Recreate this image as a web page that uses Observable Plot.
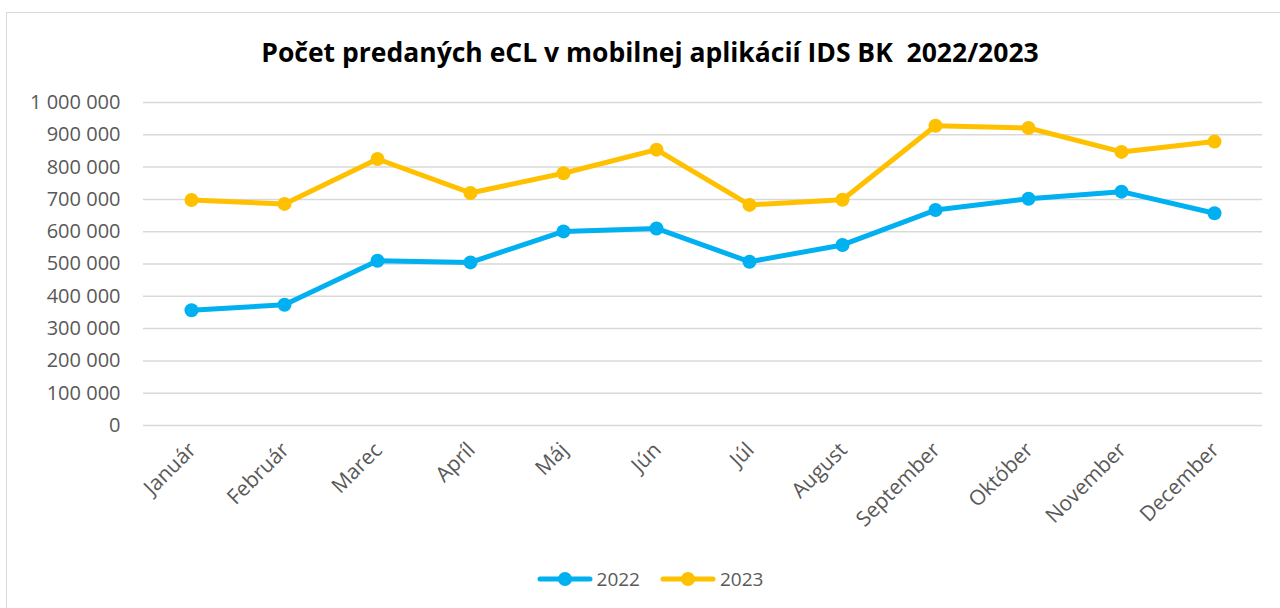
<!DOCTYPE html>
<html>
<head>
<meta charset="utf-8">
<script src="https://cdn.jsdelivr.net/npm/d3@7"></script>
<script src="https://cdn.jsdelivr.net/npm/@observablehq/plot@0.6"></script>
<style>
  html, body { margin: 0; padding: 0; background: #fff; overflow: hidden; }
  #wrap { position: relative; width: 1280px; height: 608px; font-family: "Open Sans", sans-serif; }
  #frame { position: absolute; left: 6px; top: 12px; width: 1290px; height: 620px; border: 1.5px solid #d9d9d9; box-sizing: border-box; }
  #title { position: absolute; left: 0; top: 33px; width: 1300px; text-align: center; font-weight: 700; font-size: 26.5px; color: #000; line-height: 38px; }
  #chart { position: absolute; left: 0; top: 80px; }
  #legend { position: absolute; left: 0; top: 564px; width: 1300px; display: flex; justify-content: center; gap: 20px; font-size: 19px; color: #595959; line-height: 30px; }
  .item { display: flex; align-items: center; gap: 4px; }
</style>
</head>
<body>
<div id="wrap">
  <div id="frame"></div>
  <div id="title">Počet predaných eCL v mobilnej aplikácií IDS BK&nbsp; 2022/2023</div>
  <div id="chart"></div>
  <div id="legend"></div>
</div>
<script>
const months = ["Január", "Február", "Marec", "Apríl", "Máj", "Jún", "Júl", "August", "September", "Október", "November", "December"];
const values2022 = [357000, 374000, 510000, 505000, 601000, 610000, 507000, 559000, 667000, 702000, 724000, 657000];
const values2023 = [698000, 686000, 825000, 720000, 781000, 854000, 683000, 699000, 928000, 921000, 847000, 879000];
const seriesNames = ["2022", "2023"];
const seriesColors = ["#00B0F0", "#FFC000"];
const yTicks = [0, 100000, 200000, 300000, 400000, 500000, 600000, 700000, 800000, 900000, 1000000];

const data = [];
[values2022, values2023].forEach((vals, s) => {
  vals.forEach((v, i) => data.push({month: months[i], year: seriesNames[s], value: v}));
});

const fmt = d => d3.format(",")(d).replace(/,/g, " ");

const chart = Plot.plot({
  width: 1280,
  height: 460,
  marginTop: 22,
  marginBottom: 115,
  marginLeft: 143,
  marginRight: 18,
  style: {fontFamily: "Open Sans, sans-serif", fontSize: "20px", color: "#595959", background: "transparent"},
  x: {type: "point", domain: months, padding: 0.5, label: null},
  y: {domain: [0, 1000000], label: null},
  color: {domain: seriesNames, range: seriesColors},
  marks: [
    Plot.gridY(yTicks, {stroke: "#d9d9d9", strokeOpacity: 1, strokeWidth: 1.5}),
    Plot.axisY(yTicks, {tickSize: 0, tickPadding: 23, tickFormat: fmt, label: null, fill: "#595959", fontSize: 20}),
    Plot.axisX({tickSize: 0, tickRotate: -45, tickPadding: 21, label: null, fill: "#595959", fontSize: 21, dx: 1}),
    Plot.line(data, {x: "month", y: "value", z: "year", stroke: "year", strokeWidth: 5, strokeLinejoin: "round"}),
    Plot.dot(data, {x: "month", y: "value", fill: "year", r: 7, stroke: null})
  ]
});
document.getElementById("chart").appendChild(chart);

const legend = document.getElementById("legend");
seriesNames.forEach((name, i) => {
  const item = document.createElement("div");
  item.className = "item";
  item.innerHTML = `<svg width="56" height="16"><line x1="3" y1="8" x2="53" y2="8" stroke="${seriesColors[i]}" stroke-width="5" stroke-linecap="round"/><circle cx="28" cy="8" r="7" fill="${seriesColors[i]}"/></svg><span>${name}</span>`;
  legend.appendChild(item);
});
</script>
</body>
</html>
